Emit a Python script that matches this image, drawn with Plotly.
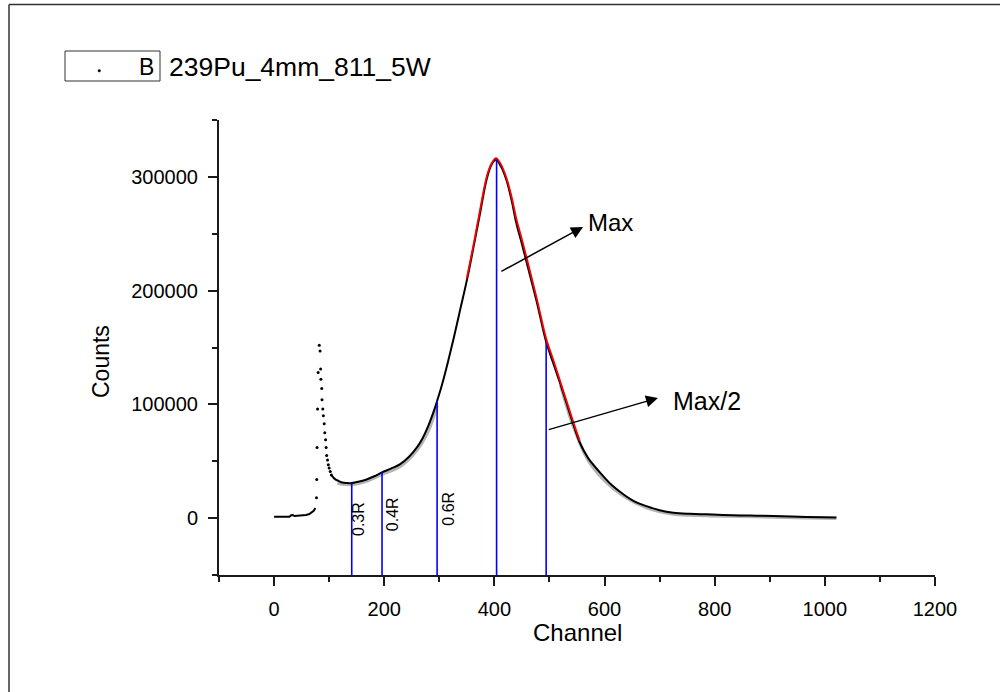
import plotly.graph_objects as go

# ---------------- data ----------------
low_ch = [0, 10, 20, 28, 31, 34, 37, 42, 50, 58, 64, 68, 72, 75]
low_counts = [1200, 1200, 1200, 1300, 2600, 2800, 1800, 1900, 2200, 2800, 3600, 4800, 6500, 9000]

spike_ch = [77, 77.5, 78, 79, 80, 82, 83.5, 84.5, 85, 86.5, 87, 88.5, 89.5, 91, 92,
            93.5, 94.5, 95.5, 97, 98.5, 100, 102, 104]
spike_counts = [18000, 34000, 62000, 96000, 128000, 152000, 147000, 131000, 122000,
                114000, 104000, 96000, 90000, 83000, 75000, 69000, 62000, 55000,
                51000, 47000, 44000, 41000, 38000]

main_ch = [104, 108, 112, 117, 122, 127, 133, 141, 155, 168, 182, 196, 212, 229, 245,
           259, 270, 280, 290, 296, 305, 315, 326, 338, 350, 362, 374, 386, 395, 403,
           412, 422, 431, 440, 450, 459, 477, 494, 507, 519, 531, 543, 555, 570, 592,
           612, 634, 655, 676, 700, 725, 755, 785, 815, 846, 876, 906, 937, 967, 995, 1021]
main_counts = [38000, 35500, 33800, 32700, 31600, 31100, 30800, 30800, 32200, 34000,
               36800, 40200, 43500, 47500, 54000, 62000, 70500, 81000, 94000, 103000,
               117500, 136000, 158000, 183500, 209000, 238000, 268000, 298000, 311000,
               315000, 309000, 297000, 280000, 259000, 241000, 224000, 190000, 155000,
               136000, 119000, 101000, 83000, 66500, 53000, 40000, 29500, 21000, 14500,
               10600, 7000, 4800, 3800, 3300, 2800, 2400, 2100, 1800, 1400, 1000, 700, 500]

shadow_ch_a = [115, 125, 141, 168, 196, 229, 259, 280, 296]
shadow_counts_a = [31000, 29800, 29500, 32500, 38500, 45500, 59500, 76500, 99000]
shadow_ch_b = [520, 543, 570, 600, 634, 676, 725, 785, 846, 906, 967, 1021]
shadow_counts_b = [117000, 81000, 51000, 33000, 19500, 9200, 3500, 2200, 1500, 900, 300, -200]

fit_ch = [350, 362, 374, 386, 395, 403, 412, 422, 431, 440, 450, 459, 477, 494, 507,
          519, 531, 543, 555]
fit_counts = [211000, 240000, 271000, 300000, 312000, 316500, 311000, 299000, 283000,
              263000, 245000, 228000, 193000, 158000, 139000, 121000, 103000, 85000, 68000]

marker_ch = [141, 196, 296, 404, 494]
marker_counts = [30500, 40500, 103000, 315000, 155000]
marker_labels = ["0.3R", "0.4R", "0.6R"]
marker_label_y = [-1000, 3500, 8000]
marker_label_dx = [7, 10, 10.5]

x_range = [-100, 1200]
y_range = [-50000, 350000]
x_ticks = [0, 200, 400, 600, 800, 1000, 1200]
y_ticks = [0, 100000, 200000, 300000]

legend_key = "B"
legend_text = "239Pu_4mm_811_5W"

# ---------------- layout helpers ----------------
W, H = 1000, 692
L, R, T, B = 219, 935, 120, 575
FONT = "Liberation Sans, Arial, sans-serif"


def px(xp):
    return (xp - L) / (R - L)


def py(yp):
    return (B - yp) / (B - T)


fig = go.Figure()

# gray shadow
for cx, cy in ((shadow_ch_a, shadow_counts_a), (shadow_ch_b, shadow_counts_b)):
    fig.add_trace(go.Scatter(x=cx, y=cy, mode="lines",
                             line=dict(color="#b4b4b4", width=3.2, shape="spline", smoothing=1),
                             hoverinfo="skip", showlegend=False))

# black data
fig.add_trace(go.Scatter(x=low_ch, y=low_counts, mode="lines",
                         line=dict(color="black", width=2), showlegend=False))
fig.add_trace(go.Scatter(x=main_ch, y=main_counts, mode="lines",
                         line=dict(color="black", width=2, shape="spline", smoothing=1),
                         showlegend=False))
fig.add_trace(go.Scatter(x=spike_ch, y=spike_counts, mode="markers",
                         marker=dict(color="black", size=3), showlegend=False))

# blue markers
for c, v in zip(marker_ch, marker_counts):
    fig.add_trace(go.Scatter(x=[c, c], y=[y_range[0], v], mode="lines",
                             line=dict(color="#0000ff", width=1.6), showlegend=False))

# red fit
fig.add_trace(go.Scatter(x=fit_ch, y=fit_counts, mode="lines",
                         line=dict(color="#ff0000", width=1.8, shape="spline", smoothing=1),
                         showlegend=False))

annotations = []
for lab, c, ly, dx in zip(marker_labels, marker_ch, marker_label_y, marker_label_dx):
    annotations.append(dict(x=c, y=ly, xref="x", yref="y", text=lab, showarrow=False,
                            textangle=-90, xshift=dx, xanchor="center", yanchor="middle",
                            font=dict(family=FONT, size=16, color="black")))

# arrows + labels
annotations.append(dict(x=561, y=256000, ax=410, ay=216200, xref="x", yref="y",
                        axref="x", ayref="y", text="", showarrow=True, arrowhead=2,
                        arrowsize=1.6, arrowwidth=1.5, arrowcolor="black"))
annotations.append(dict(x=566, y=259500, xref="x", yref="y", text="Max",
                        showarrow=False, xanchor="left", yanchor="middle",
                        font=dict(family=FONT, size=24, color="black")))
annotations.append(dict(x=697, y=105600, ax=496, ay=77400, xref="x", yref="y",
                        axref="x", ayref="y", text="", showarrow=True, arrowhead=2,
                        arrowsize=1.6, arrowwidth=1.5, arrowcolor="black"))
annotations.append(dict(x=720, y=102600, xref="x", yref="y", text="Max/2",
                        showarrow=False, xanchor="left", yanchor="middle",
                        font=dict(family=FONT, size=25, color="black")))

# axis titles
annotations.append(dict(x=px(577), y=py(632), xref="paper", yref="paper", text="Channel",
                        showarrow=False, xanchor="center", yanchor="middle",
                        font=dict(family=FONT, size=24, color="black")))
annotations.append(dict(x=px(101), y=py(362), xref="paper", yref="paper", text="Counts",
                        showarrow=False, textangle=-90, xanchor="center", yanchor="middle",
                        font=dict(family=FONT, size=23, color="black")))

# legend
annotations.append(dict(x=px(156), y=py(67), xref="paper", yref="paper", text=legend_key,
                        showarrow=False, xanchor="right", yanchor="middle",
                        font=dict(family=FONT, size=23, color="black")))
annotations.append(dict(x=px(167), y=py(67), xref="paper", yref="paper", text=legend_text,
                        showarrow=False, xanchor="left", yanchor="middle",
                        font=dict(family=FONT, size=26.5, color="black")))

shapes = [
    # outer border (top and left)
    dict(type="line", xref="paper", yref="paper", x0=px(9), x1=px(1002), y0=py(4.5), y1=py(4.5),
         line=dict(color="#333333", width=1.5)),
    dict(type="line", xref="paper", yref="paper", x0=px(9), x1=px(9), y0=py(4.5), y1=py(694),
         line=dict(color="#333333", width=1.5)),
    # legend box
    dict(type="rect", xref="paper", yref="paper", x0=px(65), x1=px(160), y0=py(81), y1=py(51),
         line=dict(color="#333333", width=1)),
    dict(type="circle", xref="paper", yref="paper", x0=px(98), x1=px(100.5), y0=py(72), y1=py(69.5),
         line=dict(color="black", width=0.5), fillcolor="black"),
]

axis_common = dict(showgrid=False, zeroline=False, showline=True, linecolor="#1a1a1a",
                   linewidth=2, ticks="outside", ticklen=9, tickwidth=1.5,
                   tickcolor="#1a1a1a",
                   tickfont=dict(family=FONT, size=20, color="black"))

fig.update_layout(
    width=W, height=H, autosize=False,
    margin=dict(l=L, r=W - R, t=T, b=H - B, pad=0),
    paper_bgcolor="white", plot_bgcolor="white",
    showlegend=False,
    xaxis=dict(range=x_range, tickvals=x_ticks, ticklabelstandoff=6,
               minor=dict(dtick=100, tick0=0, ticks="outside", ticklen=5,
                          tickwidth=1.5, tickcolor="#1a1a1a"),
               **axis_common),
    yaxis=dict(range=y_range, tickvals=y_ticks, tickformat="d", ticklabelstandoff=6,
               minor=dict(dtick=50000, tick0=0, ticks="outside", ticklen=5,
                          tickwidth=1.5, tickcolor="#1a1a1a"),
               **axis_common),
    annotations=annotations,
    shapes=shapes,
)

fig.write_html("out.html")
